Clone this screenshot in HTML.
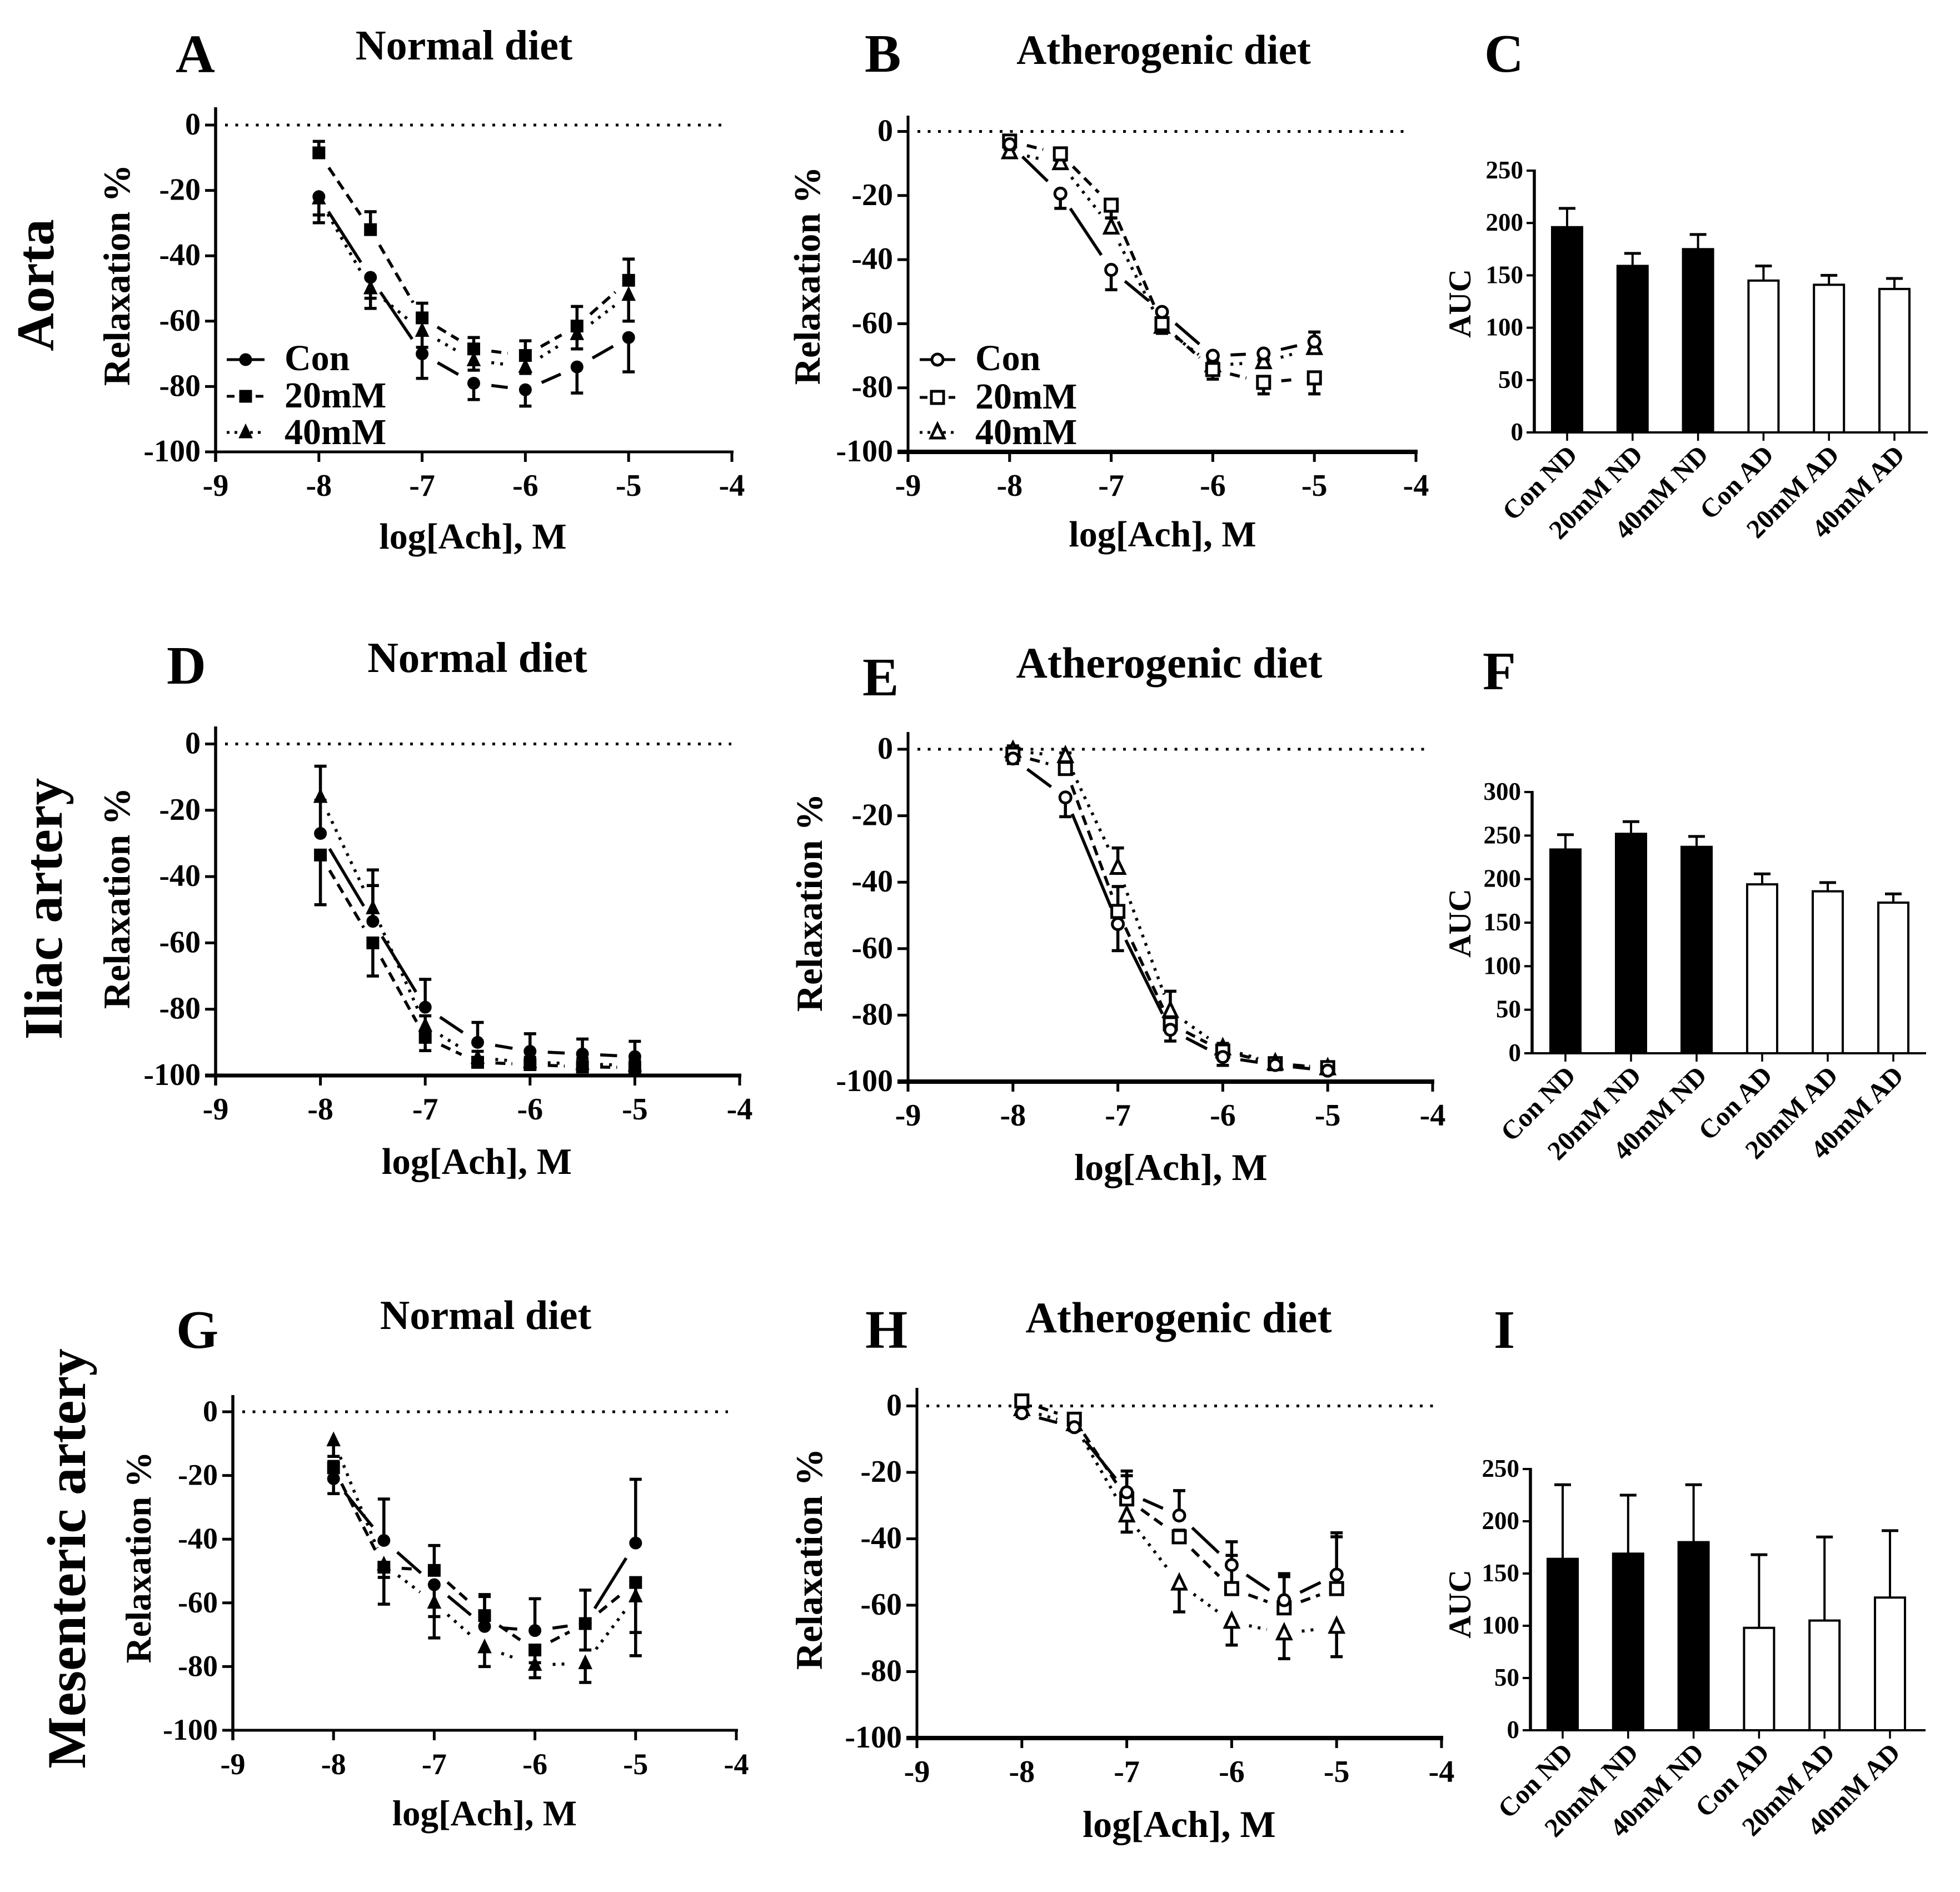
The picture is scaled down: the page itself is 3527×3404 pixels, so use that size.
<!DOCTYPE html>
<html lang="en">
<head>
<meta charset="utf-8">
<title>Vascular relaxation and AUC panels</title>
<style>
html,body{margin:0;padding:0;background:#fff;}
svg{display:block;}
text{font-family:"Liberation Serif",serif;font-weight:bold;fill:#000;}
</style>
</head>
<body>
<svg id="fig" xmlns="http://www.w3.org/2000/svg" width="3527" height="3404" viewBox="0 0 3527 3404">
<rect x="0" y="0" width="3527" height="3404" fill="#fff"/>

<text font-size="95" text-anchor="middle" transform="translate(96,513) rotate(-90)">Aorta</text>
<text font-size="98" text-anchor="middle" transform="translate(111,1635) rotate(-90)">Iliac artery</text>
<text font-size="99" text-anchor="middle" transform="translate(153,2804) rotate(-90)">Mesenteric artery</text>

<text font-size="98" x="316" y="130">A</text>
<text font-size="98" x="1556" y="129">B</text>
<text font-size="98" x="2671" y="129">C</text>
<text font-size="98" x="300" y="1230">D</text>
<text font-size="98" x="1552" y="1251">E</text>
<text font-size="98" x="2668" y="1240">F</text>
<text font-size="98" x="317" y="2425">G</text>
<text font-size="98" x="1557" y="2425">H</text>
<text font-size="98" x="2688" y="2425">I</text>

<text font-size="76" text-anchor="middle" x="835" y="107">Normal diet</text>
<text font-size="75" text-anchor="middle" x="2094" y="115">Atherogenic diet</text>
<text font-size="77" text-anchor="middle" x="859" y="1209">Normal diet</text>
<text font-size="78" text-anchor="middle" x="2104" y="1219">Atherogenic diet</text>
<text font-size="74" text-anchor="middle" x="874" y="2391">Normal diet</text>
<text font-size="78" text-anchor="middle" x="2121" y="2397">Atherogenic diet</text>

<text font-size="66" text-anchor="middle" x="851" y="987">log[Ach], M</text>
<text font-size="66" text-anchor="middle" x="2092" y="983">log[Ach], M</text>
<text font-size="67" text-anchor="middle" x="858" y="2112">log[Ach], M</text>
<text font-size="68" text-anchor="middle" x="2107" y="2123">log[Ach], M</text>
<text font-size="65" text-anchor="middle" x="872" y="3284">log[Ach], M</text>
<text font-size="68" text-anchor="middle" x="2122" y="3305">log[Ach], M</text>

<text font-size="68" text-anchor="middle" transform="translate(233,495) rotate(-90)">Relaxation %</text>
<text font-size="67" text-anchor="middle" transform="translate(1475,496) rotate(-90)">Relaxation %</text>
<text font-size="68" text-anchor="middle" transform="translate(233,1616) rotate(-90)">Relaxation %</text>
<text font-size="67" text-anchor="middle" transform="translate(1479,1624) rotate(-90)">Relaxation %</text>
<text font-size="65" text-anchor="middle" transform="translate(271,2802) rotate(-90)">Relaxation %</text>
<text font-size="68" text-anchor="middle" transform="translate(1479,2805) rotate(-90)">Relaxation %</text>

<text font-size="57" text-anchor="middle" transform="translate(2646,546) rotate(-90)">AUC</text>
<text font-size="57" text-anchor="middle" transform="translate(2646,1661) rotate(-90)">AUC</text>
<text font-size="57" text-anchor="middle" transform="translate(2646,2886) rotate(-90)">AUC</text>
</svg>

<script>
// ---------- shared categories and tick labels ----------
const doseLevels = [-8, -7.5, -7, -6.5, -6, -5.5, -5];
const xTickLabels = [-9, -8, -7, -6, -5, -4];
const yTickLabels = [0, -20, -40, -60, -80, -100];
const legendLabels = ['Con', '20mM', '40mM'];
const barCategories = ['Con ND', '20mM ND', '40mM ND', 'Con AD', '20mM AD', '40mM AD'];
const aucTicks250 = [0, 50, 100, 150, 200, 250];
const aucTicks300 = [0, 50, 100, 150, 200, 250, 300];

// ---------- panel A (aorta, normal diet); error sign: + up, - down ----------
const aCon = [-21.9, -46.6, -70, -79, -81, -74, -65];
const aConErr = [-8, -9.5, -7.5, -5, -5, -8, -10.5];
const a20 = [-8.5, -32, -59, -68.5, -70.5, -61.5, -47.5];
const a20Err = [3.5, 5.5, 4.5, 3.5, 4.5, 6, 6.5];
const a40 = [-22.5, -50, -63, -72, -74, -64, -52];
const a40Err = [-5, -3, -5, -3, -2, -4.5, -8];

// ---------- panel B (aorta, atherogenic diet) ----------
const bCon = [-4, -19.4, -43.2, -56.3, -70, -69.3, -65.6];
const bConErr = [-1.5, -4.6, -6.2, -2, -2, -2, -2.5];
const b20 = [-3, -7, -23, -60, -74.3, -78.3, -76.9];
const b20Err = [-1.5, -2, -4, -3, -3, -3.6, -5];
const b40 = [-6.5, -9.9, -30, -61, -73, -72, -67.6];
const b40Err = [2, 2, 3, 2, 2, 2, 5];

// ---------- panel D (iliac, normal diet) ----------
const dCon = [-27, -53.5, -79.4, -90, -92.7, -93.5, -94.3];
const dConErr = [10, 10.8, 8.4, 6, 5.3, 4.5, 4.6];
const d20 = [-33.5, -60, -88.5, -96, -96.7, -97.4, -97.6];
const d20Err = [-15, -10, -4, -1.5, -1.5, -1.5, -1.5];
const d40 = [-16, -49.6, -85, -94.7, -96, -96.5, -97];
const d40Err = [9.3, 11.6, 3, 2, 1.5, 1.5, 1.5];

// ---------- panel E (iliac, atherogenic diet) ----------
const eCon = [-2.8, -14.5, -52.6, -84.4, -92.6, -95, -96.7];
const eConErr = [-1.5, -5.8, -8, -3.4, -2.5, -1, -1];
const e20 = [-1.5, -5.8, -48.8, -82.6, -90.8, -94.6, -95.8];
const e20Err = [1, 1.5, 7.5, 2, 2.3, 1, 1];
const e40 = [-0.5, -2.1, -35.7, -78.8, -90, -94.5, -96];
const e40Err = [1.5, 1, 6, 6, 1.5, 1, 1];

// ---------- panel G (mesenteric, normal diet) ----------
const gCon = [-21, -40.4, -54.3, -67.4, -68.7, -66.5, -41.2];
const gConErr = [-4.7, 13, -10, 10, 10, 10.5, 20];
const g20 = [-17.6, -48.8, -49.8, -64, -74.8, -66.5, -53.6];
const g20Err = [2, -11.6, 7.8, 6, -4, -8.3, -23];
const g40 = [-9, -48, -60, -74, -79.5, -79, -58];
const g40Err = [-5, -4, -11, -6, -4, -6, -11.3];

// ---------- panel H (mesenteric, atherogenic diet) ----------
const hCon = [-2.2, -6.4, -26, -33, -47.9, -58.5, -50.8];
const hConErr = [-1, -1, 6.4, 7.5, 7, 8, 12.6];
const h20 = [1.5, -4, -28, -39.4, -55, -60.8, -55];
const h20Err = [1, 1, 7, 2, 10, 9.4, 15.6];
const h40 = [-1, -5.5, -33, -53.5, -65, -68.5, -66.5];
const h40Err = [-1, -1, -5, -8.5, -7, -7.6, -9];

// ---------- bar panels ----------
const cMeans = [196, 159, 175, 145, 141, 137];
const cErrs = [18, 12, 14, 14, 9, 10];
const fMeans = [234, 252, 237, 194, 186, 173];
const fErrs = [17, 14, 12, 12, 10, 10];
const iMeans = [164, 169, 180, 98, 105, 127];
const iErrs = [71, 56, 55, 70, 80, 64];

const SVGNS = 'http://www.w3.org/2000/svg';
const fig = document.getElementById('fig');

function make(tag, parent, attrs) {
  const n = document.createElementNS(SVGNS, tag);
  for (const k in attrs) n.setAttribute(k, attrs[k]);
  parent.appendChild(n);
  return n;
}

function drawMarker(parent, kind, cx, cy, open, label) {
  const style = open
    ? { fill: '#fff', stroke: '#000', 'stroke-width': 5 }
    : { fill: '#000', stroke: '#000', 'stroke-width': 1 };
  let m;
  if (kind === 0) {
    m = make('circle', parent, Object.assign({ cx: cx, cy: cy, r: open ? 10 : 11 }, style));
  } else if (kind === 1) {
    m = make('rect', parent, Object.assign({ x: cx - 11, y: cy - 11, width: 22, height: 22 }, style));
  } else {
    const p = (cx) + ',' + (cy - 15) + ' ' + (cx + 12) + ',' + (cy + 10) + ' ' + (cx - 12) + ',' + (cy + 10);
    m = make('polygon', parent, Object.assign({ points: p }, style));
  }
  
  
  return m;
}

const dashStyles = ['none', '18 11', '5 11'];

function drawCurvePanel(cfg) {
  const g = make('g', fig, {});
  
  
  const xScale = v => cfg.x0 + (v + 9) / 5 * (cfg.x1 - cfg.x0);
  const yScale = v => cfg.y0 + (v / -100) * (cfg.yb - cfg.y0);

  // zero reference line
  const zero = make('line', g, { x1: cfg.x0 + 17, x2: cfg.x1 - 15, y1: cfg.y0, y2: cfg.y0, stroke: '#000', 'stroke-width': 5, 'stroke-dasharray': '5 13.5' });
  
  

  // axes
  const yAxis = make('line', g, { x1: cfg.x0, x2: cfg.x0, y1: cfg.top, y2: cfg.yb + 18, stroke: '#000', 'stroke-width': cfg.axisW });
  
  
  const xAxis = make('line', g, { x1: cfg.x0 - 19, x2: cfg.x1 + 3, y1: cfg.yb, y2: cfg.yb, stroke: '#000', 'stroke-width': cfg.baseW });
  
  

  yTickLabels.forEach(function (t) {
    const y = yScale(t);
    const tick = make('line', g, { x1: cfg.x0 - 19, x2: cfg.x0, y1: y, y2: y, stroke: '#000', 'stroke-width': 5 });
    
    
    const lab = make('text', g, { x: cfg.x0 - 27, y: y + 17, 'font-size': cfg.tickFont, 'text-anchor': 'end' });
    
    
    lab.textContent = t;
  });
  xTickLabels.forEach(function (t) {
    const x = xScale(t);
    const tick = make('line', g, { x1: x, x2: x, y1: cfg.yb, y2: cfg.yb + 18, stroke: '#000', 'stroke-width': 5 });
    
    
    const lab = make('text', g, { x: x, y: cfg.yb + 79, 'font-size': cfg.tickFont, 'text-anchor': 'middle' });
    
    
    lab.textContent = t;
  });

  // connecting line segments, trimmed short of each marker
  const gap = 32;
  cfg.series.forEach(function (vals, s) {
    for (let i = 0; i < vals.length - 1; i++) {
      const ax = xScale(doseLevels[i]), ay = yScale(vals[i]);
      const bx = xScale(doseLevels[i + 1]), by = yScale(vals[i + 1]);
      const len = Math.hypot(bx - ax, by - ay);
      if (len <= gap * 2 + 2) continue;
      const ux = (bx - ax) / len, uy = (by - ay) / len;
      const seg = make('line', g, {
        x1: ax + ux * gap, y1: ay + uy * gap, x2: bx - ux * gap, y2: by - uy * gap,
        stroke: '#000', 'stroke-width': 5.5,
        'stroke-dasharray': dashStyles[s]
      });
      
      
    }
  });

  // error bars
  cfg.series.forEach(function (vals, s) {
    vals.forEach(function (v, i) {
      const x = xScale(doseLevels[i]);
      const y = yScale(v);
      const ye = yScale(v + cfg.errors[s][i]);
      const bar = make('line', g, { x1: x, x2: x, y1: y, y2: ye, stroke: '#000', 'stroke-width': 5.5 });
      
      
      const cap = make('line', g, { x1: x - 11, x2: x + 11, y1: ye, y2: ye, stroke: '#000', 'stroke-width': 5.5 });
      
      
    });
  });

  // markers, last series drawn first so Con sits on top
  [2, 1, 0].forEach(function (s) {
    cfg.series[s].forEach(function (v, i) {
      drawMarker(g, s, xScale(doseLevels[i]), yScale(v), cfg.open, 'point-' + legendLabels[s].toLowerCase());
    });
  });

  // legend
  if (cfg.legend) {
    legendLabels.forEach(function (name, s) {
      const lg = make('g', g, {});
      
      
      const cy = cfg.legend.rows[s];
      const swatch = make('line', lg, { x1: cfg.legend.x0, x2: cfg.legend.x1, y1: cy, y2: cy, stroke: '#000', 'stroke-width': 5, 'stroke-dasharray': s === 0 ? 'none' : (s === 1 ? '14 12' : '5 9') });
      
      
      drawMarker(lg, s, (cfg.legend.x0 + cfg.legend.x1) / 2, cy, cfg.open, 'legend-marker');
      const t = make('text', lg, { x: cfg.legend.tx, y: cfg.legend.base[s], 'font-size': 66 });
      
      
      t.textContent = name;
    });
  }
}

function drawBarPanel(cfg) {
  const g = make('g', fig, {});
  
  
  const yScale = v => cfg.y0 + (v / cfg.tickVals[cfg.tickVals.length - 1]) * (cfg.yt - cfg.y0);
  const xScale = i => cfg.cx0 + i * (cfg.cx5 - cfg.cx0) / 5;

  barCategories.forEach(function (name, i) {
    const cx = xScale(i);
    const top = yScale(cfg.means[i]);
    const errY = yScale(cfg.means[i] + cfg.errs[i]);
    const eb = make('line', g, { x1: cx, x2: cx, y1: top, y2: errY, stroke: '#000', 'stroke-width': 4 });
    
    
    const ec = make('line', g, { x1: cx - 15, x2: cx + 15, y1: errY, y2: errY, stroke: '#000', 'stroke-width': 5 });
    
    
    const filled = i < 3;
    const r = make('rect', g, {
      x: cx - 27, y: top, width: 54, height: cfg.y0 - top,
      fill: filled ? '#000' : '#fff', stroke: '#000', 'stroke-width': 4
    });
    
    
    const tick = make('line', g, { x1: cx, x2: cx, y1: cfg.y0, y2: cfg.y0 + 15, stroke: '#000', 'stroke-width': 3.5 });
    
    
    const ax = cx + 21, ay = cfg.y0 + 43;
    const lab = make('text', g, { 'font-size': 48, 'text-anchor': 'end', transform: 'translate(' + ax + ',' + ay + ') rotate(-45)' });
    
    
    lab.textContent = name;
  });

  const yAxis = make('line', g, { x1: cfg.x0, x2: cfg.x0, y1: cfg.yt - 2, y2: cfg.y0 + 2, stroke: '#000', 'stroke-width': 5.5 });
  
  
  const xAxis = make('line', g, { x1: cfg.x0 - 14, x2: cfg.x1, y1: cfg.y0, y2: cfg.y0, stroke: '#000', 'stroke-width': 4 });
  
  

  cfg.tickVals.forEach(function (t) {
    const y = yScale(t);
    const tick = make('line', g, { x1: cfg.x0 - 14, x2: cfg.x0, y1: y, y2: y, stroke: '#000', 'stroke-width': 4 });
    
    
    const lab = make('text', g, { x: cfg.x0 - 20, y: y + 14, 'font-size': 45, 'text-anchor': 'end' });
    
    
    lab.textContent = t;
  });
}

drawCurvePanel({ id: 'a', x0: 388, x1: 1317, y0: 225, yb: 813, top: 193, axisW: 5.5, baseW: 5, tickFont: 56, open: false,
  series: [aCon, a20, a40], errors: [aConErr, a20Err, a40Err],
  legend: { x0: 408, x1: 476, tx: 512, rows: [647, 713, 778], base: [666, 733, 799] } });
drawCurvePanel({ id: 'b', x0: 1634, x1: 2548, y0: 236.5, yb: 813, top: 208, axisW: 5, baseW: 8, tickFont: 56, open: true,
  series: [bCon, b20, b40], errors: [bConErr, b20Err, b40Err],
  legend: { x0: 1655, x1: 1719, tx: 1755, rows: [647, 715, 778], base: [666, 735, 799] } });
drawCurvePanel({ id: 'd', x0: 388, x1: 1331, y0: 1338.5, yb: 1935, top: 1307, axisW: 5.5, baseW: 7, tickFont: 56, open: false,
  series: [dCon, d20, d40], errors: [dConErr, d20Err, d40Err] });
drawCurvePanel({ id: 'e', x0: 1634, x1: 2578, y0: 1348, yb: 1946, top: 1317, axisW: 5, baseW: 8, tickFont: 56, open: true,
  series: [eCon, e20, e40], errors: [eConErr, e20Err, e40Err] });
drawCurvePanel({ id: 'g', x0: 419, x1: 1325, y0: 2540, yb: 3113, top: 2510, axisW: 5.5, baseW: 5, tickFont: 54, open: false,
  series: [gCon, g20, g40], errors: [gConErr, g20Err, g40Err] });
drawCurvePanel({ id: 'h', x0: 1650, x1: 2594, y0: 2529.5, yb: 3127, top: 2497, axisW: 5, baseW: 8, tickFont: 56, open: true,
  series: [hCon, h20, h40], errors: [hConErr, h20Err, h40Err] });

drawBarPanel({ id: 'c', x0: 2761, x1: 3469, y0: 778, yt: 307, cx0: 2820, cx5: 3409, means: cMeans, errs: cErrs, tickVals: aucTicks250 });
drawBarPanel({ id: 'f', x0: 2757, x1: 3466, y0: 1895, yt: 1425, cx0: 2817, cx5: 3407, means: fMeans, errs: fErrs, tickVals: aucTicks300 });
drawBarPanel({ id: 'i', x0: 2754, x1: 3465, y0: 3113, yt: 2643, cx0: 2812, cx5: 3401, means: iMeans, errs: iErrs, tickVals: aucTicks250 });
</script>
</body>
</html>
